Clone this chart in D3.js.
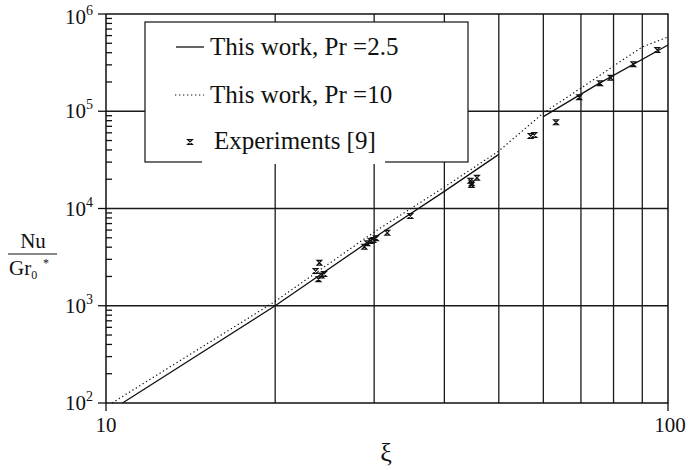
<!DOCTYPE html>
<html>
<head>
    <meta charset="UTF-8">
    <title>Nu / Gr0* vs xi</title>
    <script src="https://d3js.org/d3.v7.min.js"></script>
    <style>
        body { margin: 0; background: #fff; }
        svg text { font-family: "Liberation Serif", "DejaVu Serif", serif; fill: #111; }
        .grid { stroke: #1a1a1a; stroke-width: 1.3px; }
        .frame { stroke: #111; stroke-width: 1.5px; fill: none; }
        .tick { stroke: #111; stroke-width: 1.3px; }
        .line { fill: none; stroke: #111; }
    </style>
</head>
<body>
<div id="chart"></div>
<script>
    // data (xi, Nu/Gr0*)
    const xTicks = [10, 100];
    const yTicks = [2, 3, 4, 5, 6];          // exponents of 10
    const xGrid = [20, 30, 40, 50, 60, 70, 80, 90];
    const yGrid = [1e3, 1e4, 1e5];

    // Pr = 2.5, two pieces (gap between 50 and 60)
    const pr25a = [[10.7, 100], [20, 1000], [30, 5000], [40, 15000], [50, 36000]];
    const pr25b = [[60, 88000], [75, 190000], [100, 480000]];
    // Pr = 10
    const pr10 = [[10.25, 100], [20, 1110], [30, 5730], [40, 16600], [50, 39000],
                  [60, 96000], [70, 173000], [80, 292000], [90, 458000], [100, 580000]];
    // Experiments [9]
    const expXi = [23.6, 23.97, 23.88, 24.18, 24.43, 28.82, 29.17, 29.58, 29.89, 30.22,
                   31.66, 34.79, 44.74, 44.52, 44.7, 45.72, 56.97, 57.82, 63.2, 69.5,
                   75.7, 79.07, 86.77, 95.7];
    const expNu = [2277, 2772, 1871, 2047, 2121, 4048, 4387, 4634, 4744, 4939,
                   5638, 8375, 18160, 19270, 17450, 20730, 55660, 57000, 76900, 139100,
                   193800, 221300, 304000, 426600];

    const W = 688, H = 470;
    const pL = 106, pR = 668, pT = 14, pB = 403;

    const x = d3.scaleLog().domain([10, 100]).range([pL, pR]);
    const y = d3.scaleLog().domain([1e2, 1e6]).range([pB, pT]);

    const svg = d3.select("#chart").append("svg")
        .attr("width", W).attr("height", H);

    // grid
    svg.selectAll(".vg").data(xGrid).join("line")
        .attr("class", "grid")
        .attr("x1", d => x(d)).attr("x2", d => x(d))
        .attr("y1", pT).attr("y2", pB);
    svg.selectAll(".hg").data(yGrid).join("line")
        .attr("class", "grid")
        .attr("x1", pL).attr("x2", pR)
        .attr("y1", d => y(d)).attr("y2", d => y(d));

    // frame: left, bottom, right, top
    svg.append("path").attr("class", "frame")
        .attr("d", `M${pL},${pT}V${pB}H${pR}V${pT}H${pL}`);

    // y minor ticks (inside), major ticks (outside)
    const minors = [];
    for (let e = 2; e < 6; e++) for (let m = 2; m <= 9; m++) minors.push(m * Math.pow(10, e));
    svg.selectAll(".ymin").data(minors).join("line")
        .attr("class", "tick")
        .attr("x1", pL).attr("x2", pL + 6)
        .attr("y1", d => y(d)).attr("y2", d => y(d));
    svg.selectAll(".ymaj").data(yTicks).join("line")
        .attr("class", "tick")
        .attr("x1", pL - 8).attr("x2", pL)
        .attr("y1", d => y(Math.pow(10, d))).attr("y2", d => y(Math.pow(10, d)));

    const yl = svg.selectAll(".ylab").data(yTicks).join("text")
        .attr("x", 93)
        .attr("y", d => y(Math.pow(10, d)) + (d === 6 ? 10 : 7))
        .attr("text-anchor", "end")
        .style("font-size", "21px");
    yl.append("tspan").text("10");
    yl.append("tspan").attr("dy", -9).style("font-size", "14px").text(d => d);

    // x ticks
    svg.selectAll(".xmaj").data(xTicks).join("line")
        .attr("class", "tick")
        .attr("x1", d => x(d)).attr("x2", d => x(d))
        .attr("y1", pB).attr("y2", pB + 8);
    svg.selectAll(".xlab").data(xTicks).join("text")
        .attr("x", d => x(d) + (d === 100 ? 2 : 0))
        .attr("y", 432)
        .attr("text-anchor", "middle")
        .style("font-size", "21px")
        .text(d => d);

    // axis titles
    svg.append("text").attr("x", 386).attr("y", 461)
        .attr("text-anchor", "middle").style("font-size", "26px").text("ξ");

    svg.append("text").attr("x", 33).attr("y", 248)
        .attr("text-anchor", "middle").style("font-size", "21px").text("Nu");
    svg.append("line").attr("x1", 8).attr("x2", 57).attr("y1", 254).attr("y2", 254)
        .attr("stroke", "#111").attr("stroke-width", 1.2);
    const gr = svg.append("text").attr("x", 9).attr("y", 275).style("font-size", "21px");
    gr.append("tspan").text("Gr");
    gr.append("tspan").attr("dy", 4).style("font-size", "12px").text("0");
    svg.append("text").attr("x", 43).attr("y", 267).style("font-size", "12px").text("*");

    // curves
    const line = d3.line().x(d => x(d[0])).y(d => y(d[1]));
    [pr25a, pr25b].forEach(seg => {
        svg.append("path").attr("class", "line")
            .attr("d", line(seg)).attr("stroke-width", 1.3);
    });
    svg.append("path").attr("class", "line")
        .attr("d", line(pr10))
        .attr("stroke-width", 1.2)
        .attr("stroke-dasharray", "1.3,2.7");

    // legend
    const lg = svg.append("g");
    lg.append("rect").attr("x", 145).attr("y", 22).attr("width", 323).attr("height", 140)
        .attr("fill", "#fff").attr("stroke", "#111").attr("stroke-width", 1.2);
    lg.append("line").attr("x1", 176).attr("x2", 204).attr("y1", 47).attr("y2", 47)
        .attr("stroke", "#111").attr("stroke-width", 1.3);
    lg.append("text").attr("x", 210).attr("y", 55).style("font-size", "25px")
        .text("This work, Pr =2.5");
    lg.append("line").attr("x1", 175).attr("x2", 204).attr("y1", 95).attr("y2", 95)
        .attr("stroke", "#111").attr("stroke-width", 1.2).attr("stroke-dasharray", "1.3,2.7");
    lg.append("text").attr("x", 210).attr("y", 103).style("font-size", "25px")
        .text("This work, Pr =10");
    lg.append("rect").attr("x", 202).attr("y", 128).attr("width", 183).attr("height", 36)
        .attr("fill", "#fff");
    const marker = "M-2.4,-2.4H2.4L-2.4,2.4H2.4Z";
    lg.append("path").attr("d", marker).attr("transform", "translate(190,142)")
        .attr("fill", "none").attr("stroke", "#111").attr("stroke-width", 1.2);
    lg.append("text").attr("x", 214).attr("y", 149).style("font-size", "25px")
        .text("Experiments [9]");

    // experimental points
    svg.selectAll(".pt").data(d3.range(expXi.length)).join("path")
        .attr("d", marker)
        .attr("transform", i => `translate(${x(expXi[i])},${y(expNu[i])})`)
        .attr("fill", "none").attr("stroke", "#111").attr("stroke-width", 1.2);
</script>
</body>
</html>
